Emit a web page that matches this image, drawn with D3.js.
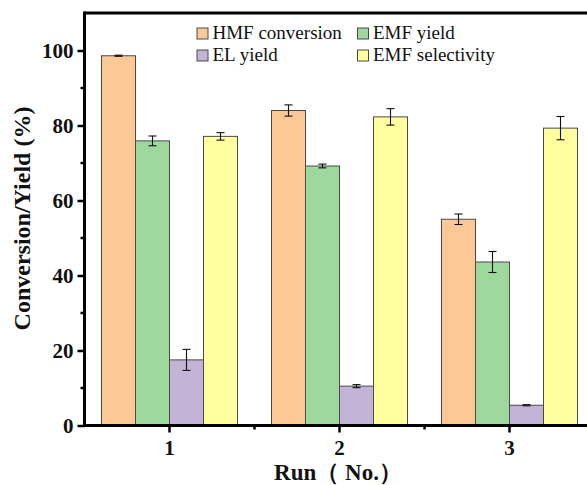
<!DOCTYPE html>
<html>
<head>
<meta charset="utf-8">
<script src="https://cdn.jsdelivr.net/npm/d3@7/dist/d3.min.js"></script>
<style>
  html, body { margin: 0; padding: 0; background: #fff; overflow: hidden; }
  svg { display: block; }
</style>
</head>
<body>
<svg id="chart" width="587" height="485"></svg>
<script>
// Catalyst recycling runs
const runs = ["1", "2", "3"];
const seriesNames = ["HMF conversion", "EMF yield", "EL yield", "EMF selectivity"];
const seriesColors = ["#fcc896", "#9fd89d", "#c3b3d7", "#ffff9f"];

// Values (%) per run, one array per series
const hmfConversion = [98.6, 84.0, 55.0];
const emfYield = [75.9, 69.2, 43.6];
const elYield = [17.5, 10.5, 5.4];
const emfSelectivity = [77.1, 82.3, 79.3];

// Standard deviations per run
const hmfConversionErr = [0.15, 1.5, 1.4];
const emfYieldErr = [1.3, 0.5, 2.8];
const elYieldErr = [2.8, 0.4, 0.15];
const emfSelectivityErr = [1.0, 2.2, 3.1];

const yTicks = [0, 20, 40, 60, 80, 100];
const yMinorTicks = [10, 30, 50, 70, 90];

const values = [hmfConversion, emfYield, elYield, emfSelectivity];
const errors = [hmfConversionErr, emfYieldErr, elYieldErr, emfSelectivityErr];

const SERIF = '"Liberation Serif", "Times New Roman", serif';

const svg = d3.select("#chart");
const plotLeft = 84.5, plotRight = 594.5, plotTop = 13, plotBottom = 425.5;

const x = d3.scaleBand().domain(runs).range([plotLeft, plotRight])
  .paddingInner(0.2).paddingOuter(0.1);
const xSub = d3.scaleBand().domain(seriesNames).range([0, x.bandwidth()]);
const y = d3.scaleLinear().domain([0, 110]).range([plotBottom, plotTop]);

// Bars
const rows = [];
runs.forEach((r, ri) => {
  seriesNames.forEach((s, si) => {
    rows.push({ run: r, series: s, si, value: values[si][ri], err: errors[si][ri] });
  });
});

svg.append("g").selectAll("rect").data(rows).join("rect")
  .attr("x", d => x(d.run) + xSub(d.series))
  .attr("y", d => y(d.value))
  .attr("width", xSub.bandwidth())
  .attr("height", d => y(0) - y(d.value))
  .attr("fill", d => seriesColors[d.si])
  .attr("stroke", "#4a4a4a")
  .attr("stroke-width", 1);

// Error bars
const eb = svg.append("g").attr("stroke", "#111").attr("stroke-width", 1.1);
rows.forEach(d => {
  const cx = x(d.run) + xSub(d.series) + xSub.bandwidth() / 2;
  const y1 = y(d.value + d.err), y2 = y(d.value - d.err);
  eb.append("line").attr("x1", cx).attr("x2", cx).attr("y1", y1).attr("y2", y2);
  eb.append("line").attr("x1", cx - 4).attr("x2", cx + 4).attr("y1", y1).attr("y2", y1);
  eb.append("line").attr("x1", cx - 4).attr("x2", cx + 4).attr("y1", y2).attr("y2", y2);
});

// Y axis
const yAxis = svg.append("g").attr("transform", `translate(${plotLeft},0)`)
  .call(d3.axisLeft(y).tickValues(yTicks).tickSize(7).tickPadding(4).tickFormat(d3.format("d")));
yAxis.select(".domain").remove();
yAxis.selectAll(".tick line").attr("stroke", "#000").attr("stroke-width", 2.5);
yAxis.selectAll(".tick text").attr("font-size", 21).attr("font-weight", "bold")
  .attr("fill", "#111").style("font-family", SERIF);
svg.append("g").selectAll("line").data(yMinorTicks).join("line")
  .attr("x1", plotLeft - 4).attr("x2", plotLeft).attr("y1", d => y(d)).attr("y2", d => y(d))
  .attr("stroke", "#000").attr("stroke-width", 2.5);

// X axis
const xLin = d3.scaleLinear().domain([0.5, 3.5]).range([plotLeft, plotRight]);
const xAxis = svg.append("g").attr("transform", `translate(0,${plotBottom})`)
  .call(d3.axisBottom(x).tickSize(7).tickPadding(8).tickSizeOuter(0));
xAxis.select(".domain").remove();
xAxis.selectAll(".tick line").attr("stroke", "#000").attr("stroke-width", 2.5);
xAxis.selectAll(".tick text").attr("font-size", 21).attr("font-weight", "bold")
  .attr("fill", "#111").style("font-family", SERIF);
svg.append("g").selectAll("line").data([1.5, 2.5]).join("line")
  .attr("x1", d => xLin(d)).attr("x2", d => xLin(d))
  .attr("y1", plotBottom).attr("y2", plotBottom + 4)
  .attr("stroke", "#000").attr("stroke-width", 2.5);

// Frame lines
const frame = svg.append("g").attr("stroke", "#000").attr("stroke-width", 3);
frame.append("line").attr("x1", plotLeft).attr("x2", plotRight).attr("y1", plotBottom).attr("y2", plotBottom);
frame.append("line").attr("x1", plotLeft).attr("x2", plotRight).attr("y1", plotTop).attr("y2", plotTop);
frame.append("line").attr("x1", plotLeft).attr("x2", plotLeft).attr("y1", plotTop - 1.5).attr("y2", plotBottom + 1.5);
frame.append("line").attr("x1", plotRight).attr("x2", plotRight).attr("y1", plotTop - 1.5).attr("y2", plotBottom + 1.5);

// Axis titles
svg.append("text")
  .attr("transform", `translate(29.5,218.5) rotate(-90)`)
  .attr("text-anchor", "middle").attr("font-size", 24).attr("font-weight", "bold").attr("fill", "#111")
  .style("font-family", SERIF)
  .text("Conversion/Yield (%)");
svg.append("text")
  .attr("x", 338).attr("y", 480)
  .attr("text-anchor", "middle").attr("font-size", 23).attr("font-weight", "bold").attr("fill", "#111")
  .style("font-family", SERIF)
  .text("Run（ No.）");

// Legend (2 x 2)
const legendPos = [[197, 39], [357.5, 39], [197, 61], [357.5, 61]];
const legend = svg.append("g");
seriesNames.forEach((s, i) => {
  const [lx, ly] = legendPos[i];
  legend.append("rect").attr("x", lx).attr("y", ly - 11).attr("width", 11).attr("height", 11)
    .attr("fill", seriesColors[i]).attr("stroke", "#4a4a4a").attr("stroke-width", 1);
  legend.append("text").attr("x", lx + 15.5).attr("y", ly)
    .attr("font-size", 19).attr("fill", "#111").style("font-family", SERIF).text(s);
});
</script>
</body>
</html>
